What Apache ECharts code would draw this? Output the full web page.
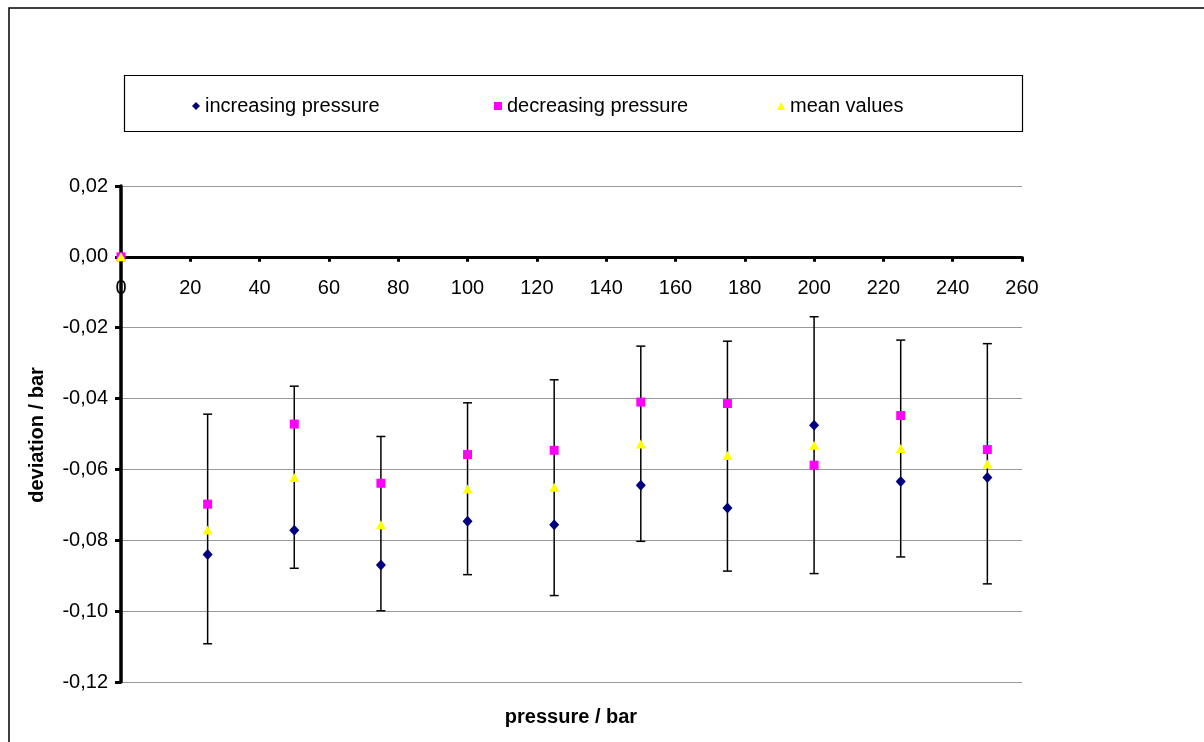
<!DOCTYPE html>
<html><head><meta charset="utf-8">
<script src="https://cdn.jsdelivr.net/npm/echarts@6/dist/echarts.min.js"></script>
<style>html,body{margin:0;padding:0;background:#fff}#c{width:1204px;height:742px}</style>
</head><body><div id="c"></div>
<script>
// pressure / bar
const pressures = [0, 25, 50, 75, 100, 125, 150, 175, 200, 225, 250];
// deviation / bar
const increasing = [0, -0.0840, -0.0772, -0.0870, -0.0746, -0.0756, -0.0645, -0.0709, -0.0475, -0.0634, -0.0623];
const decreasing = [0, -0.0698, -0.0472, -0.0639, -0.0558, -0.0546, -0.0410, -0.0414, -0.0588, -0.0448, -0.0544];
const meanValues = [0, -0.0771, -0.0623, -0.0756, -0.0655, -0.0650, -0.0528, -0.0561, -0.0532, -0.0541, -0.0585];
// error bar bounds (on mean values)
const errHigh = [0, -0.0444, -0.0365, -0.0507, -0.0412, -0.0347, -0.0252, -0.0238, -0.0169, -0.0235, -0.0245];
const errLow  = [0, -0.1092, -0.0879, -0.0999, -0.0897, -0.0956, -0.0803, -0.0887, -0.0894, -0.0847, -0.0923];
const seriesNames = ['increasing pressure', 'decreasing pressure', 'mean values'];

const FONT = '"Liberation Sans", Arial, sans-serif';
const FS = 20;
function pairs(v){ return pressures.map((p,i)=>[p, v[i]]); }
const errData = pressures.map((p,i)=>[p, errLow[i], errHigh[i]]);

const GRID = {left:121, right:182, top:186, bottom:60};
const Y_MIN = -0.12, Y_MAX = 0.02;
const plotH = 742 - GRID.top - GRID.bottom;
// move the x axis up to the y = 0 line
const xAxisOffset = -plotH * (0 - Y_MIN) / (Y_MAX - Y_MIN);

const chart = echarts.init(document.getElementById('c'), null, {renderer:'canvas'});
const legendBase = {
  orient:'horizontal', top:96, padding:0, itemWidth:8, itemHeight:8,
  textStyle:{fontFamily:FONT, fontSize:FS, color:'#000'}
};
const option = {
  animation:false,
  backgroundColor:'#fff',
  graphic:[
    {type:'rect', silent:true, z:-10, shape:{x:9, y:8, width:1400, height:900}, style:{fill:'none', stroke:'#000', lineWidth:1.5}},
    {type:'rect', silent:true, z:-5, shape:{x:124.5, y:75.5, width:898, height:56}, style:{fill:'none', stroke:'#000', lineWidth:1.2}},
    {type:'text', silent:true, x:571, y:717, style:{text:'pressure / bar', font:'bold '+FS+'px '+FONT, fill:'#000', align:'center', verticalAlign:'middle'}},
    {type:'text', silent:true, x:37, y:435, rotation:Math.PI/2, style:{text:'deviation / bar', font:'bold '+FS+'px '+FONT, fill:'#000', align:'center', verticalAlign:'middle'}}
  ],
  legend:[
    Object.assign({left:192, data:[{name:seriesNames[0], icon:'diamond'}]}, legendBase),
    Object.assign({left:494, data:[{name:seriesNames[1], icon:'rect'}]}, legendBase),
    Object.assign({left:777, data:[{name:seriesNames[2], icon:'triangle'}]}, legendBase)
  ],
  grid:Object.assign({containLabel:false}, GRID),
  xAxis:{
    type:'value', min:0, max:260, interval:20, position:'bottom', offset:xAxisOffset,
    axisLine:{show:true, onZero:false, lineStyle:{color:'#000', width:3}},
    axisTick:{show:true, length:5, lineStyle:{color:'#000', width:3}},
    axisLabel:{fontFamily:FONT, fontSize:FS, color:'#000', margin:22},
    splitLine:{show:false}
  },
  yAxis:{
    type:'value', min:Y_MIN, max:Y_MAX, interval:0.02,
    axisLine:{show:true, onZero:false, lineStyle:{color:'#000', width:3.5}},
    axisTick:{show:true, length:6, lineStyle:{color:'#000', width:3}},
    axisLabel:{fontFamily:FONT, fontSize:FS, color:'#000', margin:13,
      formatter:function(v){ if(Math.abs(v)<1e-9) return '0,00'; return v.toFixed(2).replace('.', ','); }},
    splitLine:{show:true, lineStyle:{color:'#999', width:1.2}}
  },
  series:[
    {type:'custom', name:'err', z:1, data:errData, encode:{x:0, y:[1,2]},
      renderItem:function(params, api){
        const x = api.value(0), lo = api.value(1), hi = api.value(2);
        const pLo = api.coord([x, lo]), pHi = api.coord([x, hi]);
        const w = 4.5;
        const st = {stroke:'#000', lineWidth:1.5};
        return {type:'group', children:[
          {type:'line', shape:{x1:pHi[0], y1:pHi[1], x2:pLo[0], y2:pLo[1]}, style:st},
          {type:'line', shape:{x1:pHi[0]-w, y1:pHi[1], x2:pHi[0]+w, y2:pHi[1]}, style:st},
          {type:'line', shape:{x1:pLo[0]-w, y1:pLo[1], x2:pLo[0]+w, y2:pLo[1]}, style:st}
        ]};
      }
    },
    {type:'scatter', name:seriesNames[0], z:3, symbol:'diamond', symbolSize:[10,11], itemStyle:{color:'#000080', opacity:1}, data:pairs(increasing)},
    {type:'scatter', name:seriesNames[1], z:4, symbol:'rect', symbolSize:9, itemStyle:{color:'#FF00FF', opacity:1}, data:pairs(decreasing)},
    {type:'scatter', name:seriesNames[2], z:5, symbol:'triangle', symbolSize:[10,9], itemStyle:{color:'#FFFF00', opacity:1}, data:pairs(meanValues)}
  ]
};
chart.setOption(option);
</script>
</body></html>
